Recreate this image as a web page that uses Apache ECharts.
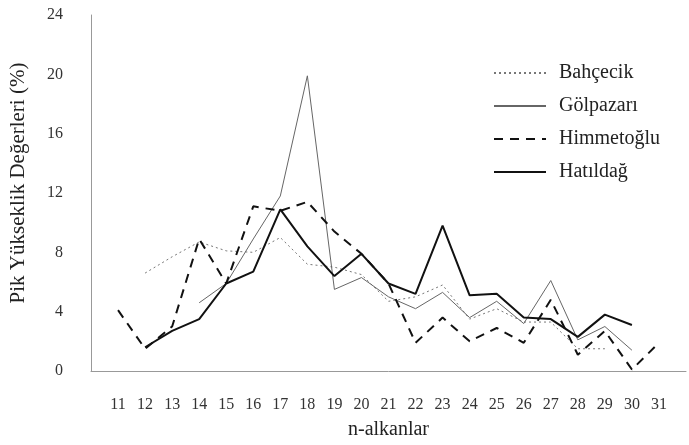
<!DOCTYPE html>
<html>
<head>
<meta charset="utf-8">
<script src="https://cdn.jsdelivr.net/npm/echarts@6/dist/echarts.min.js"></script>
<style>html,body{margin:0;padding:0;background:#fff;}#c{width:689px;height:445px;}</style>
</head>
<body>
<div id="c"></div>
<script>
// carbon numbers (n-alkanes)
var xTicks = [11,12,13,14,15,16,17,18,19,20,21,22,23,24,25,26,27,28,29,30,31];
var yTicks = [0,4,8,12,16,20,24];

var bahcecikC = [12,13,14,15,16,17,18,19,20,21,22,23,24,25,26,27,28,29];
var bahcecikV = [6.6,7.7,8.7,8.1,8.0,9.0,7.2,7.0,6.5,4.7,5.0,5.8,3.5,4.2,3.3,3.3,1.5,1.5];

var golpazariC = [14,15,16,17,18,19,20,21,22,23,24,25,26,27,28,29,30];
var golpazariV = [4.6,5.9,8.9,11.8,19.9,5.5,6.3,5.0,4.2,5.3,3.6,4.7,3.2,6.1,2.1,3.0,1.4];

var himmetogluC = [11,12,13,14,15,16,17,18,19,20,21,22,23,24,25,26,27,28,29,30,31];
var himmetogluV = [4.1,1.5,3.0,8.9,5.9,11.1,10.8,11.4,9.4,7.9,5.9,1.9,3.6,2.0,2.9,1.9,4.8,1.1,2.7,0.1,1.9];

var hatildagC = [12,13,14,15,16,17,18,19,20,21,22,23,24,25,26,27,28,29,30];
var hatildagV = [1.6,2.7,3.5,5.9,6.7,10.9,8.4,6.4,7.9,5.9,5.2,9.8,5.1,5.2,3.6,3.5,2.3,3.8,3.1];

function pairs(c, v) { return c.map(function (x, i) { return [x, v[i]]; }); }

var FONT = '"Liberation Serif", "DejaVu Serif", serif';
var chart = echarts.init(document.getElementById('c'), null, {renderer: 'canvas'});
chart.setOption({
  animation: false,
  backgroundColor: '#fff',
  textStyle: {fontFamily: FONT},
  grid: {left: 86, right: 0, top: 15, bottom: 67, containLabel: false},
  legend: {
    orient: 'vertical', left: 488, top: 58,
    itemWidth: 52, itemHeight: 14, itemGap: 13,
    itemStyle: {color: 'transparent', borderColor: 'transparent', borderWidth: 0, opacity: 0},
    textStyle: {fontFamily: FONT, fontSize: 20, color: '#222', padding: [0,0,0,8]},
    data: ['Bahçecik','Gölpazarı','Himmetoğlu','Hatıldağ']
  },
  xAxis: {
    type: 'value', min: 10, max: 32, interval: 1,
    name: 'n-alkanlar', nameLocation: 'middle', nameGap: 49,
    nameTextStyle: {fontFamily: FONT, fontSize: 20, color: '#222'},
    axisLine: {show: true, lineStyle: {color: '#999', width: 1}},
    axisTick: {show: false},
    splitLine: {show: false},
    axisLabel: {
      margin: 26, fontFamily: FONT, fontSize: 16, color: '#333',
      formatter: function (v) { return xTicks.indexOf(v) >= 0 ? String(v) : ''; }
    }
  },
  yAxis: {
    type: 'value', min: yTicks[0], max: yTicks[yTicks.length-1], interval: 4,
    name: 'Pik Yükseklik Değerleri (%)', nameLocation: 'middle', nameGap: 62,
    nameTextStyle: {fontFamily: FONT, fontSize: 21, color: '#222', padding: [0,0,0,20]},
    axisLine: {show: true, lineStyle: {color: '#999', width: 1}},
    axisTick: {show: false},
    splitLine: {show: false},
    axisLabel: {margin: 28, fontFamily: FONT, fontSize: 16, color: '#333'}
  },
  series: [
    {name: 'Bahçecik', type: 'line', symbol: 'none', data: pairs(bahcecikC, bahcecikV),
     lineStyle: {color: '#777', width: 1, type: [2,3]}, itemStyle: {color: '#777'}},
    {name: 'Gölpazarı', type: 'line', symbol: 'none', data: pairs(golpazariC, golpazariV),
     lineStyle: {color: '#666', width: 1, type: 'solid'}, itemStyle: {color: '#666'}},
    {name: 'Himmetoğlu', type: 'line', symbol: 'none', data: pairs(himmetogluC, himmetogluV),
     lineStyle: {color: '#111', width: 2, type: [9,7]}, itemStyle: {color: '#111'}},
    {name: 'Hatıldağ', type: 'line', symbol: 'none', data: pairs(hatildagC, hatildagV),
     lineStyle: {color: '#111', width: 2, type: 'solid'}, itemStyle: {color: '#111'}}
  ]
});
</script>
</body>
</html>
